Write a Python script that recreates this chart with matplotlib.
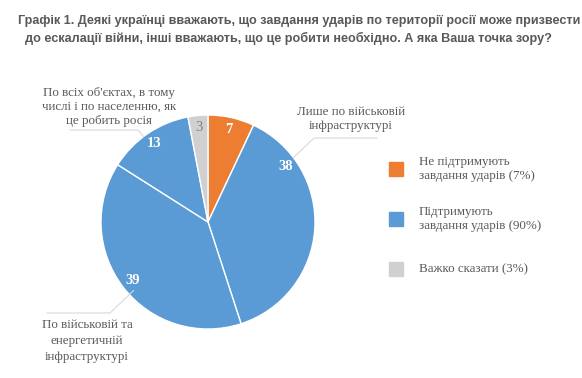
import numpy as np
import matplotlib.pyplot as plt

values = [7, 38, 39, 13, 3]
colors = ['#ED7D31', '#5B9BD5', '#5B9BD5', '#5B9BD5', '#D0D0D0']
label_colors = ['white', 'white', 'white', 'white', '#7F7F7F']
label_shift = [0, 39, 0, 0, 0]  # degrees, 38 label moved up like in source

legend_labels = ['Не підтримують\nзавдання ударів (7%)',
                 'Підтримують\nзавдання ударів (90%)',
                 'Важко сказати (3%)']
legend_colors = ['#ED7D31', '#5B9BD5', '#D0D0D0']

title = ('Графік 1. Деякі українці вважають, що завдання ударів по території росії може призвести\n'
         '  до ескалації війни, інші вважають, що це робити необхідно. А яка Ваша точка зору?')

W, H = 582, 378
cx, cy, R = 208, 222, 107
txt = '#595959'

fig = plt.figure(figsize=(W / 100, H / 100), dpi=100)
ax = fig.add_axes([(cx - R) / W, (H - cy - R) / H, 2 * R / W, 2 * R / H])
wedges, _ = ax.pie(values, colors=colors, startangle=90, counterclock=False,
                   radius=1, wedgeprops=dict(edgecolor='white', linewidth=1))
ax.set_xlim(-1, 1)
ax.set_ylim(-1, 1)
ax.set_aspect('equal')

for w, v, c, s in zip(wedges, values, label_colors, label_shift):
    ang = np.deg2rad((w.theta1 + w.theta2) / 2 + s)
    ax.text(0.89 * np.cos(ang), 0.89 * np.sin(ang), str(v), ha='center', va='center',
            fontsize=10.5, color=c, family='Liberation Serif',
            fontweight='bold' if c == 'white' else 'normal')

# overlay in pixel coords for title, callouts, legend
ov = fig.add_axes([0, 0, 1, 1])
ov.set_xlim(0, W)
ov.set_ylim(H, 0)
ov.axis('off')

ov.text(18, 30, title, ha='left', va='center', fontsize=9.1, fontweight='bold',
        color=txt, family='Liberation Sans', linespacing=1.5)

def edge(angle):
    a = np.deg2rad(angle)
    return cx + R * np.cos(a), cy - R * np.sin(a)

lc = '#D9D9D9'
x0, y0 = edge(37)
ov.plot([x0, 314, 377], [y0, 138, 138], color=lc, lw=0.8)
x0, y0 = edge(127)
ov.plot([x0, 138, 70], [y0, 130, 130], color=lc, lw=0.8)
x0, y0 = edge(222)
ov.plot([x0 + 5, 110, 47], [y0 - 3, 313, 313], color=lc, lw=0.8)

fs = 9.4
ov.text(351, 119, 'Лише по військовій\nінфраструктурі', ha='center', va='center',
        fontsize=fs, color=txt, family='Liberation Serif', linespacing=1.2)
ov.text(109, 107, "По всіх об'єктах, в тому\nчислі і по населенню, як\nце робить росія",
        ha='center', va='center', fontsize=fs, color=txt, family='Liberation Serif',
        linespacing=1.22)
ov.text(87, 341, 'По військовій та\nенергетичній\nінфраструктурі', ha='center', va='center',
        fontsize=fs, color=txt, family='Liberation Serif', linespacing=1.4)

for i, (lab, col) in enumerate(zip(legend_labels, legend_colors)):
    y = 169 + i * 50
    ov.add_patch(plt.Rectangle((389, y - 7), 14, 14, color=col))
    ov.text(419, y, lab, ha='left', va='center', fontsize=fs, color=txt,
            family='Liberation Serif', linespacing=1.2)

fig.savefig('out.png', dpi=100)
